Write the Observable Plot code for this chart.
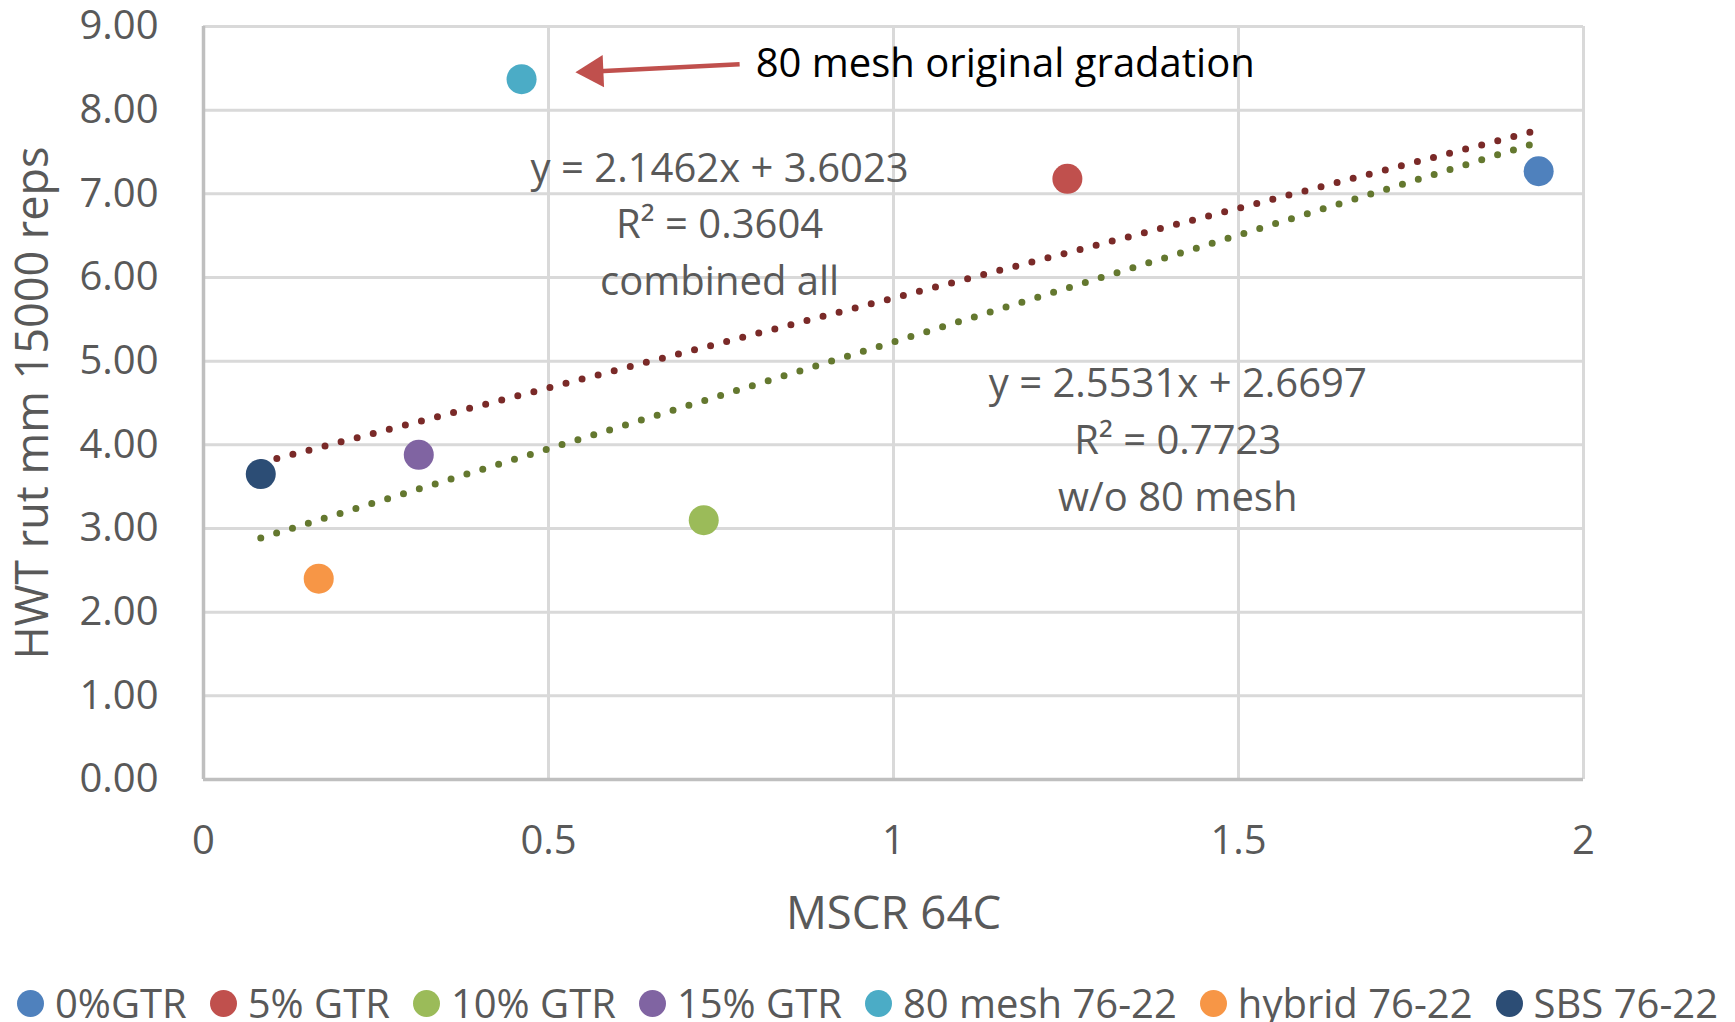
<!DOCTYPE html>
<html>
<head>
<meta charset="utf-8">
<script src="https://cdn.jsdelivr.net/npm/d3@7"></script>
<script src="https://cdn.jsdelivr.net/npm/@observablehq/plot@0.6"></script>
<style>
  html, body { margin: 0; padding: 0; background: #fff; overflow: hidden; }
  #legend { display: flex; justify-content: center; align-items: center; gap: 23px;
    margin-top: 23px; height: 40px; line-height: 40px; font-family: "Open Sans", sans-serif;
    font-size: 40px; color: #595959; white-space: nowrap; }
  .item { display: flex; align-items: center; gap: 11px; }
  .sw { width: 27px; height: 27px; border-radius: 50%; display: inline-block; }
</style>
</head>
<body>
<div id="chart"></div>
<div id="legend"></div>
<script>
// ---- data ----
const series = ["0%GTR", "5% GTR", "10% GTR", "15% GTR", "80 mesh 76-22", "hybrid 76-22", "SBS 76-22"];
const colors = ["#4F81BD", "#C0504D", "#9BBB59", "#8064A2", "#4BACC6", "#F79646", "#2C4D75"];
const mscr   = [1.935, 1.252, 0.725, 0.312, 0.461, 0.167, 0.083];
const rut    = [7.27, 7.18, 3.10, 3.88, 8.37, 2.40, 3.65];
const xTicks = [0, 0.5, 1, 1.5, 2];
const yTicks = [0, 1, 2, 3, 4, 5, 6, 7, 8, 9];
const eqAll  = ["y = 2.1462x + 3.6023", "R² = 0.3604", "combined all"];
const eqWo   = ["y = 2.5531x + 2.6697", "R² = 0.7723", "w/o 80 mesh"];
const noteText = "80 mesh original gradation";
const xTitle = "MSCR 64C";
const yTitle = "HWT rut mm 15000 reps";
// annotation anchors in data units
const eqAllPos = {x: 0.748, y: 6.685};
const eqWoPos  = {x: 1.412, y: 4.11};
const arrowTail = {x: 0.777, y: 8.55};
const arrowHead = {x: 0.566, y: 8.463};

const pts = series.map((s, i) => ({name: s, x: mscr[i], y: rut[i]}));
const ptsWo = pts.filter(d => d.name !== "80 mesh 76-22");

const dotted = {ci: 0, strokeWidth: 7, strokeLinecap: "round", strokeDasharray: "0 16.6"};

const plot = Plot.plot({
  width: 1735,
  height: 960,
  marginLeft: 203,
  marginRight: 152,
  marginTop: 26,
  marginBottom: 181,
  style: {fontFamily: "Open Sans, sans-serif", fontSize: "40px", color: "#595959", background: "#fff"},
  x: {domain: [0, 2]},
  y: {domain: [0, 9]},
  color: {domain: series, range: colors},
  marks: [
    Plot.gridX(xTicks.filter(d => d > 0), {stroke: "#d9d9d9", strokeOpacity: 1, strokeWidth: 3}),
    Plot.gridY(yTicks.filter(d => d > 0), {stroke: "#d9d9d9", strokeOpacity: 1, strokeWidth: 3}),
    Plot.ruleX([0], {stroke: "#bfbfbf", strokeWidth: 3.5}),
    Plot.ruleY([0], {stroke: "#bfbfbf", strokeWidth: 3.5}),
    Plot.axisX({ticks: xTicks, tickSize: 0, tickPadding: 46, tickFormat: d => `${d}`, label: null}),
    Plot.axisY({ticks: yTicks, tickSize: 0, tickPadding: 45, tickFormat: d3.format(".2f"), label: null}),
    Plot.text([xTitle], {frameAnchor: "bottom", lineAnchor: "middle", textAnchor: "middle", dy: 135, fontSize: 45.5}),
    Plot.text([yTitle], {frameAnchor: "left", lineAnchor: "middle", textAnchor: "middle", rotate: -90, dx: -170, fontSize: 45}),
    Plot.linearRegressionY(pts, {x: "x", y: "y", stroke: "#7a2a28", ...dotted}),
    Plot.linearRegressionY(ptsWo, {x: "x", y: "y", stroke: "#64782f", ...dotted}),
    Plot.dot(pts, {x: "x", y: "y", fill: "name", r: 15}),
    Plot.text([eqAllPos], {x: "x", y: "y", text: () => eqAll.join("\n"), lineHeight: 1.42, fill: "#595959"}),
    Plot.text([eqWoPos], {x: "x", y: "y", text: () => eqWo.join("\n"), lineHeight: 1.42, fill: "#595959"}),
    Plot.link([{x1: arrowTail.x, y1: arrowTail.y, x2: arrowHead.x, y2: arrowHead.y}],
      {x1: "x1", y1: "y1", x2: "x2", y2: "y2", stroke: "#C0504D", strokeWidth: 4.5}),
    Plot.dot([arrowHead], {x: "x", y: "y", symbol: "triangle", r: 12, fill: "#C0504D", rotate: -92.5}),
    Plot.text([arrowTail], {x: "x", y: "y", text: () => noteText, textAnchor: "start", dx: 16, fill: "#000"})
  ]
});
document.getElementById("chart").appendChild(plot);

const lg = document.getElementById("legend");
series.forEach((s, i) => {
  const it = document.createElement("div");
  it.className = "item";
  const sw = document.createElement("span");
  sw.className = "sw";
  sw.style.background = colors[i];
  const t = document.createElement("span");
  t.textContent = s;
  it.appendChild(sw);
  it.appendChild(t);
  lg.appendChild(it);
});
</script>
</body>
</html>
